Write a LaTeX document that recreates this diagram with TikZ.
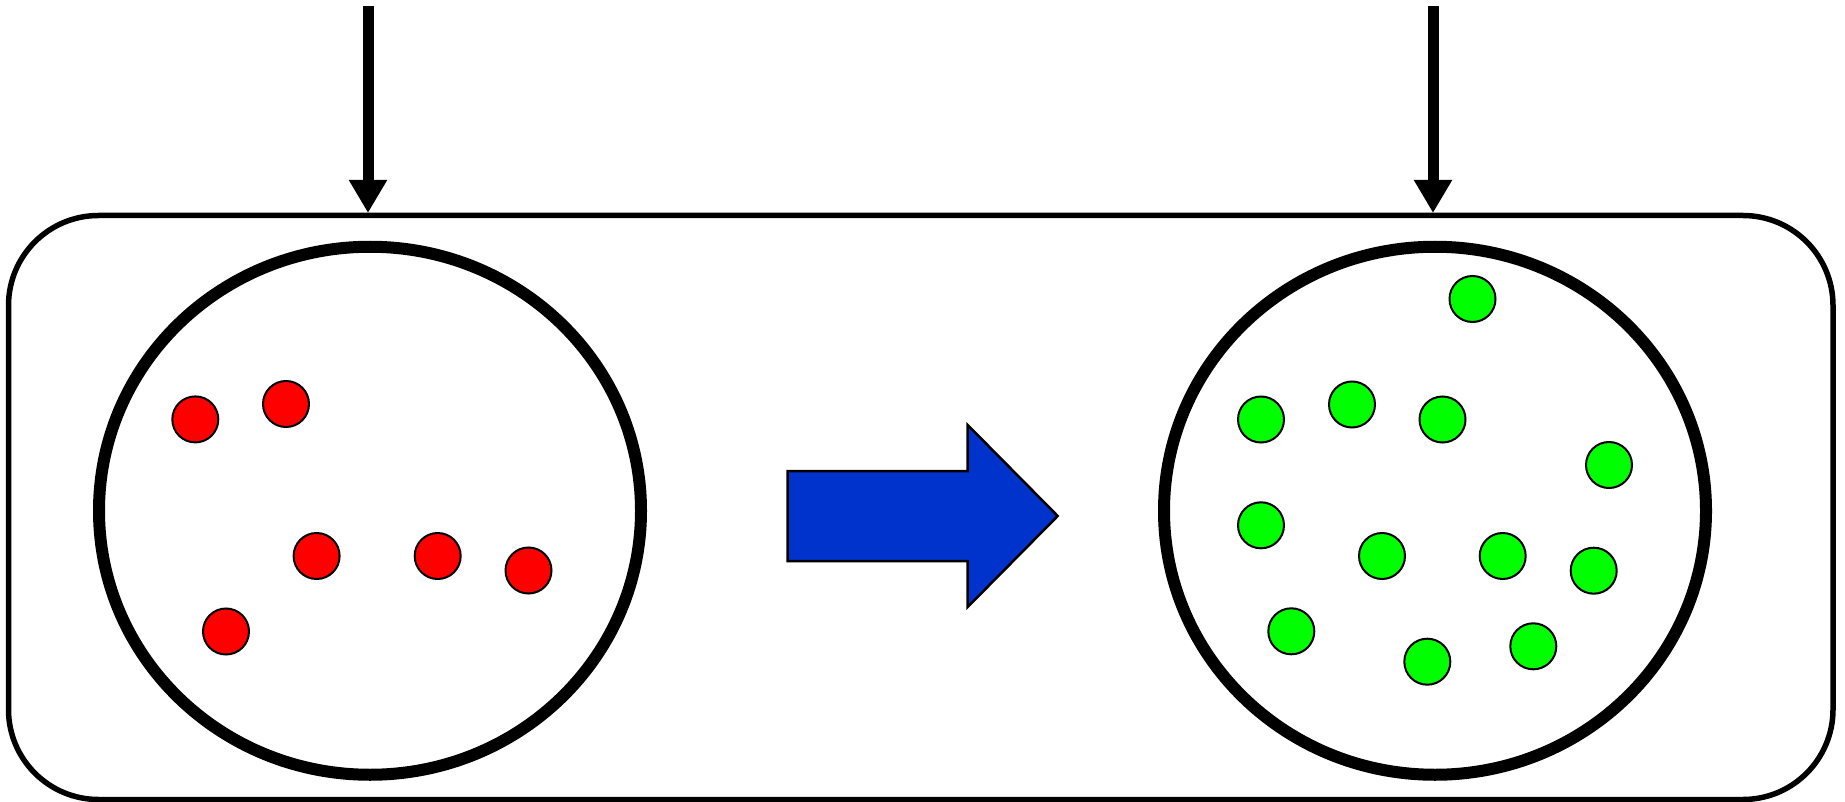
\documentclass[tikz,border=0pt]{standalone}
\usetikzlibrary{arrows.meta}

\begin{document}
\begin{tikzpicture}[x=1pt, y=-1pt,
    feed/.style = {line width=11pt, -{Triangle[width=36pt, length=33pt]}},
    dish/.style = {line width=12pt, draw=black},
    reddot/.style = {fill=red, draw=black, line width=2pt},
    greendot/.style = {fill=green, draw=black, line width=2pt}]
    \useasboundingbox (0,0) rectangle (1845,802);
    % outer box
    \draw[line width=5.5pt, rounded corners=90pt] (8.5,215.5) rectangle (1833,799.5);
    \coordinate (inL) at (368,6);
    \coordinate (boxL) at (368,213);
    \coordinate (inR) at (1433,6);
    \coordinate (boxR) at (1433,213);
    \draw[feed] (inL) -- (boxL);
    \draw[feed] (inR) -- (boxR);
    % the two dishes
    \draw[dish] (370,510.75) ellipse [x radius=271pt, y radius=264pt];
    \draw[dish] (1435,510.75) ellipse [x radius=271pt, y radius=264pt];
    % before
    \draw[reddot] (195.3,419.4) circle (23pt);
    \draw[reddot] (286,404) circle (23pt);
    \draw[reddot] (316.6,556) circle (23pt);
    \draw[reddot] (437.7,556) circle (23pt);
    \draw[reddot] (528.5,570.5) circle (23pt);
    \draw[reddot] (226,631.5) circle (23pt);
    % big blue arrow
    \draw[fill={rgb,255:red,0;green,51;blue,204}, draw=black, line width=2.5pt]
        (787.7,471) -- (967.7,471) -- (967.7,425) -- (1057.7,516)
        -- (967.7,607) -- (967.7,561) -- (787.7,561) -- cycle;
    % after
    \draw[greendot] (1472.5,299) circle (23pt);
    \draw[greendot] (1261,419.5) circle (23pt);
    \draw[greendot] (1352,404.5) circle (23pt);
    \draw[greendot] (1442.5,419.5) circle (23pt);
    \draw[greendot] (1609,465) circle (23pt);
    \draw[greendot] (1261,525.3) circle (23pt);
    \draw[greendot] (1382,556) circle (23pt);
    \draw[greendot] (1502.7,556) circle (23pt);
    \draw[greendot] (1593.7,570.7) circle (23pt);
    \draw[greendot] (1291.3,631.3) circle (23pt);
    \draw[greendot] (1427.3,661.7) circle (23pt);
    \draw[greendot] (1533.3,646.3) circle (23pt);
\end{tikzpicture}
\end{document}
